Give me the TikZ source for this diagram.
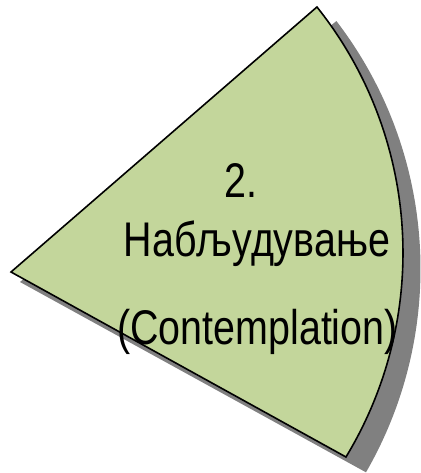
\documentclass[tikz,border=0pt]{standalone}
\usepackage{fontspec}
\setmainfont{Liberation Sans}
\newfontfamily\narrowsans[FakeStretch=0.81]{Liberation Sans}
\definecolor{wedgegreen}{HTML}{C3D69B}
\definecolor{wedgeshadow}{HTML}{808080}

\begin{document}
\begin{tikzpicture}[x=0.75pt, y=-0.75pt, every node/.style={font=\narrowsans\fontsize{36.5}{36.5}\selectfont, anchor=base, inner sep=0pt}]
	\useasboundingbox (0,0) rectangle (420,473);
	% shadow
	\fill[wedgeshadow] (20,282) -- ([shift={(13.5,268.8)}]-37.5:407) arc[start angle=-37.5, end angle=30, radius=407] -- cycle;
	% wedge
	\coordinate (apex) at (11,272);
	\draw[line width=1.2pt, fill=wedgegreen] (apex) -- ([shift={(8.8,252.8)}]-38.58:394.2) arc[start angle=-38.58, end angle=31.2, radius=394.2] -- cycle;
	\node (num) at (241,198) {2.};
	\node (stage) at (257,257) {Набљудување};
	\node (eng) at (257.5,344) {(Contemplation)};
\end{tikzpicture}
\end{document}
